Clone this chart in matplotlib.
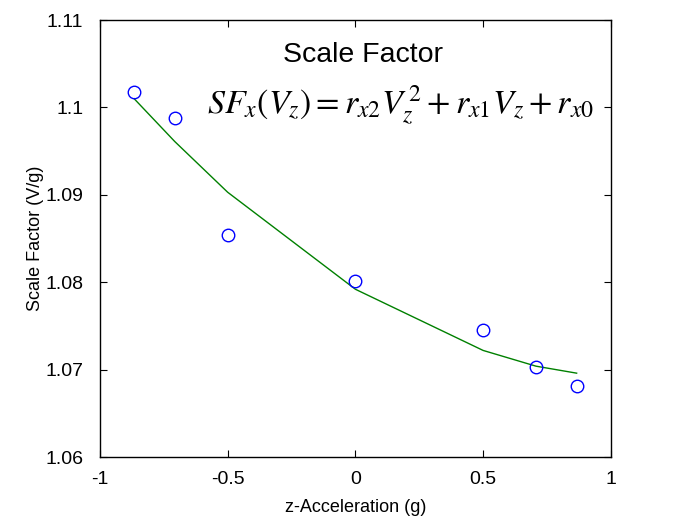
import matplotlib
matplotlib.use("Agg")
import matplotlib.pyplot as plt

# measured data (z-acceleration in g, scale factor in V/g)
z_accel = [-0.866, -0.707, -0.5, 0.0, 0.5, 0.707, 0.866]
sf_measured = [1.1018, 1.0988, 1.0854, 1.0802, 1.0745, 1.0703, 1.0681]
sf_fit = [1.1010, 1.0961, 1.0903, 1.0792, 1.0722, 1.0704, 1.0696]

x_ticks = [-1, -0.5, 0, 0.5, 1]
x_tick_labels = ["-1", "-0.5", "0", "0.5", "1"]
y_ticks = [1.06, 1.07, 1.08, 1.09, 1.10, 1.11]
y_tick_labels = ["1.06", "1.07", "1.08", "1.09", "1.1", "1.11"]

plt.rcParams["font.family"] = ["Liberation Sans", "DejaVu Sans"]
plt.rcParams["mathtext.fontset"] = "stix"

fig = plt.figure(figsize=(6.75, 5.2), dpi=100)
ax = fig.add_axes([0.148, 0.121, 0.757, 0.8405])

ax.plot(z_accel, sf_fit, color=(0, 0.5, 0), linewidth=1.0)
ax.plot(z_accel, sf_measured, linestyle="none", marker="o", markersize=9,
        markerfacecolor="none", markeredgecolor="blue", markeredgewidth=1.0)

ax.set_xlim(-1, 1)
ax.set_ylim(1.06, 1.11)
ax.set_xticks(x_ticks)
ax.set_xticklabels(x_tick_labels)
ax.set_yticks(y_ticks)
ax.set_yticklabels(y_tick_labels)
ax.tick_params(direction="in", top=True, right=True, length=5, labelsize=14)
ax.tick_params(axis="x", pad=10)
ax.tick_params(axis="y", pad=12)
for s in ax.spines.values():
    s.set_linewidth(1.0)

ax.set_xlabel("z-Acceleration (g)", fontsize=13, labelpad=8)
ax.set_ylabel("Scale Factor (V/g)", fontsize=13, labelpad=1)

ax.text(0.515, 0.92, "Scale Factor", transform=ax.transAxes, ha="center",
        va="center", fontsize=20.5)
ax.text(0.589, 0.805, r"$SF_x(V_z) = r_{x2}V_z^{\,2} + r_{x1}V_z + r_{x0}$",
        transform=ax.transAxes, ha="center", va="center", fontsize=24.5)

fig.savefig("out.png", dpi=100)
